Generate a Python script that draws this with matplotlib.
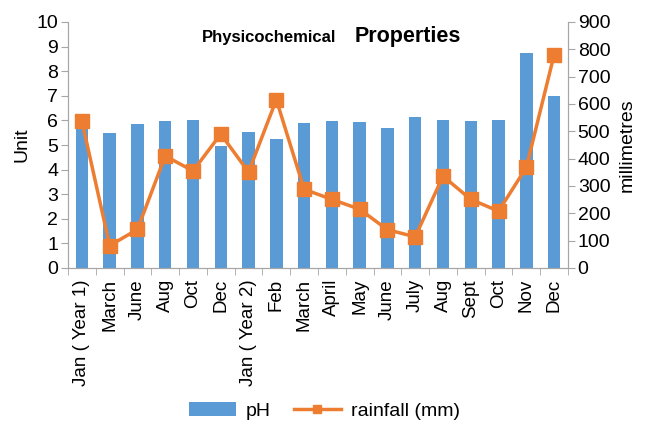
import numpy as np
import matplotlib
matplotlib.use("Agg")
import matplotlib.pyplot as plt

plt.rcParams['font.family'] = ['Liberation Sans', 'DejaVu Sans']

months = ["Jan ( Year 1)", "March", "June", "Aug", "Oct", "Dec",
          "Jan ( Year 2)", "Feb", "March", "April", "May", "June",
          "July", "Aug", "Sept", "Oct", "Nov", "Dec"]
ph = [5.9, 5.47, 5.85, 5.97, 6.02, 4.96, 5.51, 5.24, 5.89, 5.98,
      5.94, 5.71, 6.12, 6.02, 5.98, 6.02, 8.75, 7.0]
rainfall = [538, 82, 141, 410, 355, 490, 351, 616, 288, 251,
            215, 140, 114, 336, 251, 208, 368, 780]

blue = "#5B9BD5"
orange = "#ED7D31"
grey = "#A6A6A6"

fig = plt.figure(figsize=(6.49, 4.21), dpi=100)
ax = fig.add_axes([68/649, 1-268/421, 500/649, 246/421])
x = np.arange(len(months))

ax.bar(x, ph, width=0.45, color=blue, label="pH", zorder=2)
ax.set_xlim(-0.5, len(months)-0.5)
ax.set_ylim(0, 10)
ax.set_yticks(range(0, 11))
ax.set_ylabel("Unit", fontsize=14, labelpad=4)

ax2 = ax.twinx()
ax2.plot(x, rainfall, color=orange, lw=2.5, marker="s", ms=10,
         label="rainfall (mm)", zorder=3)
ax2.set_ylim(0, 900)
ax2.set_yticks(range(0, 901, 100))
ax2.set_ylabel("millimetres", fontsize=14, labelpad=6)

ax.set_xticks(x)
ax.set_xticklabels(months, rotation=90, fontsize=13.5)
ax.set_xticks(np.arange(-0.5, len(months)), minor=True)
ax.tick_params(axis="x", which="major", length=0, pad=8)
ax.tick_params(axis="x", which="minor", length=5, color=grey)
ax.tick_params(axis="y", labelsize=14, length=5, color=grey, pad=2)
ax2.tick_params(axis="y", labelsize=14, length=5, color=grey, pad=2)

for a in (ax, ax2):
    a.spines["top"].set_visible(False)
    for s in ("left", "right", "bottom"):
        a.spines[s].set_color(grey)

fig.text(0.414, 0.91, "Physicochemical", fontsize=12, fontweight="bold",
         ha="center", va="center")
fig.text(0.628, 0.913, "Properties", fontsize=15.5, fontweight="bold",
         ha="center", va="center")

h1, l1 = ax.get_legend_handles_labels()
h2, l2 = ax2.get_legend_handles_labels()
fig.legend(h1+h2, l1+l2, loc="center", bbox_to_anchor=(0.5, 0.024),
           ncol=2, frameon=False, fontsize=14, markerscale=0.6,
           handlelength=2.4, columnspacing=1.2, handletextpad=0.5)

fig.savefig("out.png", dpi=100)
